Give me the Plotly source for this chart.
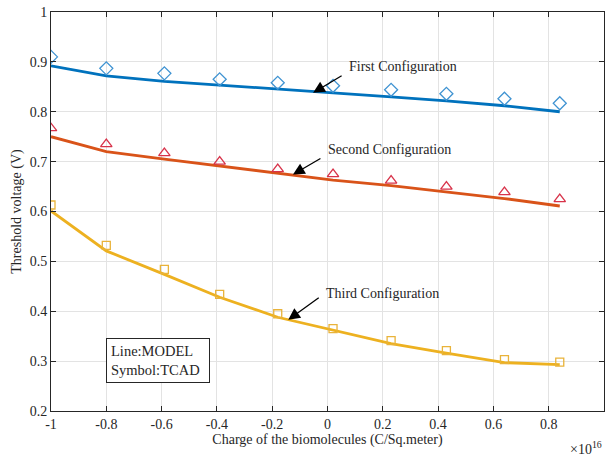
import plotly.graph_objects as go

# Surface charge density of the biomolecules (x 1e16 C/m^2)
charge = [-1.0, -0.8, -0.59, -0.39, -0.18, 0.02, 0.23, 0.43, 0.64, 0.84]

# Threshold voltage (V): analytical model (lines) and TCAD simulation (symbols)
model_first = [0.892, 0.872, 0.861, 0.853, 0.845, 0.838, 0.830, 0.822, 0.812, 0.800]
tcad_first = [0.910, 0.887, 0.877, 0.865, 0.858, 0.852, 0.844, 0.836, 0.826, 0.817]

model_second = [0.750, 0.720, 0.705, 0.691, 0.677, 0.663, 0.652, 0.640, 0.626, 0.611]
tcad_second = [0.767, 0.735, 0.717, 0.700, 0.685, 0.675, 0.662, 0.650, 0.639, 0.625]

model_third = [0.601, 0.521, 0.474, 0.428, 0.388, 0.362, 0.335, 0.316, 0.297, 0.293]
tcad_third = [0.613, 0.532, 0.484, 0.434, 0.395, 0.365, 0.341, 0.321, 0.303, 0.298]

x_ticks = [-1, -0.8, -0.6, -0.4, -0.2, 0, 0.2, 0.4, 0.6, 0.8, 1]
x_tick_text = ["-1", "-0.8", "-0.6", "-0.4", "-0.2", "0", "0.2", "0.4", "0.6", "0.8", "1"]
y_ticks = [0.2, 0.3, 0.4, 0.5, 0.6, 0.7, 0.8, 0.9, 1]
y_tick_text = ["0.2", "0.3", "0.4", "0.5", "0.6", "0.7", "0.8", "0.9", "1"]

FONT = "Liberation Serif"
AXIS_COLOR = "#262626"

series = [
    (model_first, tcad_first, "#0072BD", "#3f93d2", "diamond-open", 10),
    (model_second, tcad_second, "#D95319", "#d8334a", "triangle-up-open", 10),
    (model_third, tcad_third, "#EDB120", "#e9b33a", "square-open", 8),
]

fig = go.Figure()
for model, tcad, line_color, marker_color, symbol, size in series:
    fig.add_trace(go.Scatter(
        x=charge, y=model, mode="lines",
        line=dict(color=line_color, width=2.8),
        showlegend=False,
    ))
    fig.add_trace(go.Scatter(
        x=charge, y=tcad, mode="markers",
        marker=dict(symbol=symbol, size=size, color=marker_color,
                    line=dict(width=1.3, color=marker_color)),
        showlegend=False,
    ))

# Arrows pointing at each curve, with their labels placed separately
arrows = [
    (-0.052, 0.838, 30, -18),
    (-0.125, 0.674, 29, -17),
    (-0.142, 0.383, 32, -23),
]
for x, y, ax, ay in arrows:
    fig.add_annotation(
        x=x, y=y, ax=ax, ay=ay, text="", showarrow=True,
        arrowhead=2, arrowsize=1.8, arrowwidth=1.3, arrowcolor="black",
    )

labels = [
    (0.273, 0.890, "First Configuration"),
    (0.225, 0.7235, "Second Configuration"),
    (0.199, 0.436, "Third Configuration"),
]
for x, y, txt in labels:
    fig.add_annotation(
        x=x, y=y, text=txt, showarrow=False,
        font=dict(family=FONT, size=14, color=AXIS_COLOR),
    )

# Boxed note explaining line vs symbol
fig.add_annotation(
    x=-0.802, y=0.302, xanchor="left", yanchor="middle",
    text="Line:MODEL<br>Symbol:TCAD", align="left", showarrow=False,
    width=94,
    font=dict(family=FONT, size=14.5, color=AXIS_COLOR),
    bordercolor=AXIS_COLOR, borderwidth=1, borderpad=4, bgcolor="white",
)

# Axis exponent
fig.add_annotation(
    xref="paper", yref="paper", x=1.0, y=-0.093, xanchor="right", yanchor="middle",
    text="×10<sup>16</sup>", showarrow=False,
    font=dict(family=FONT, size=14, color=AXIS_COLOR),
)

axis_common = dict(
    showline=True, linecolor=AXIS_COLOR, linewidth=1, mirror="ticks",
    ticks="inside", ticklen=5, tickcolor=AXIS_COLOR, tickwidth=1,
    showgrid=True, gridcolor="#e3e3e3", gridwidth=1, zeroline=False,
    tickfont=dict(family=FONT, size=14, color=AXIS_COLOR),
)

fig.update_xaxes(
    range=[-1, 1], tickvals=x_ticks, ticktext=x_tick_text,
    title=dict(text="Charge of the biomolecules (C/Sq.meter)", standoff=3,
               font=dict(family=FONT, size=14, color=AXIS_COLOR)),
    **axis_common,
)
fig.update_yaxes(
    range=[0.2, 1], tickvals=y_ticks, ticktext=y_tick_text,
    title=dict(text="Threshold voltage (V)", standoff=4,
               font=dict(family=FONT, size=14, color=AXIS_COLOR)),
    **axis_common,
)

fig.update_layout(
    width=606, height=457,
    margin=dict(l=51, r=2, t=12, b=46),
    paper_bgcolor="white", plot_bgcolor="white",
    showlegend=False,
)

fig.write_html("out.html")
